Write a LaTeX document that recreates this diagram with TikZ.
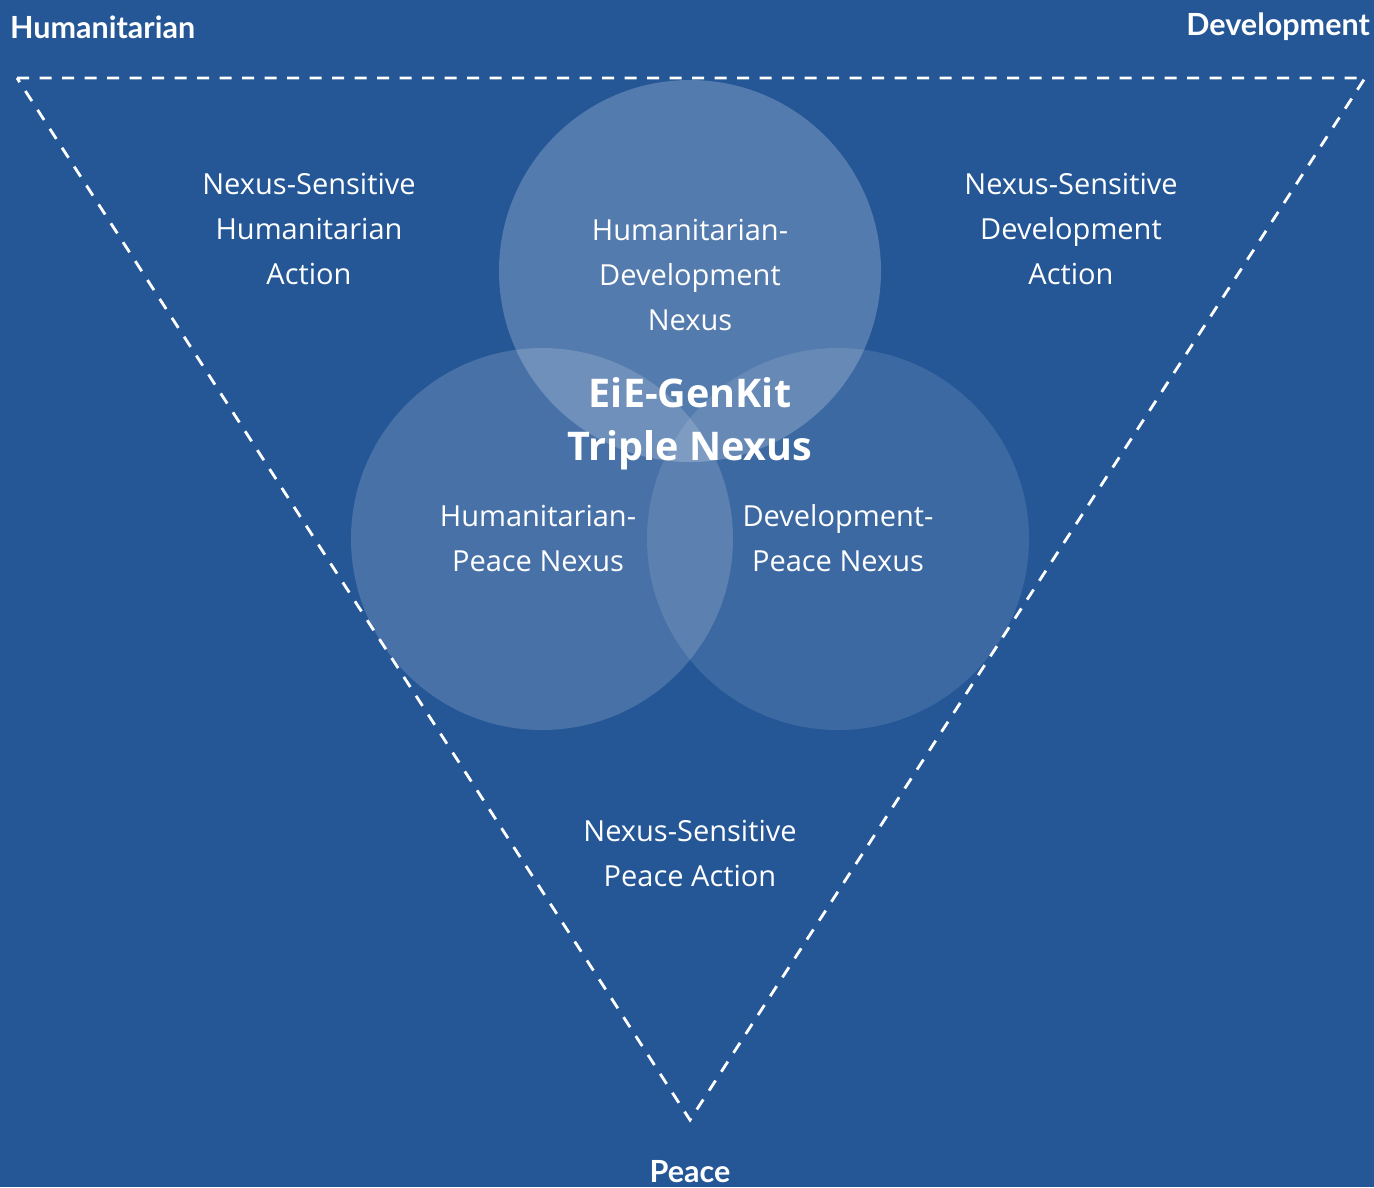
\documentclass[tikz,border=0pt]{standalone}
\usepackage{fontspec}
\setmainfont{Open Sans}
\newfontfamily\headfont{Lato}
\definecolor{bgblue}{RGB}{37,87,151}
\begin{document}
\begin{tikzpicture}[x=1pt,y=-1pt,
  bodytext/.style={text=white,align=center,font=\fontsize{29}{45}\selectfont,inner sep=0pt},
  headtext/.style={text=white,font=\headfont\bfseries\fontsize{30.5}{32}\selectfont,inner sep=0pt},
  titletext/.style={text=white,align=center,font=\bfseries\fontsize{39.5}{53}\selectfont,inner sep=0pt},
  bubble/.style={circle,fill=white,minimum size=382pt,inner sep=0pt,draw=none}]
\fill[bgblue] (0,0) rectangle (1374,1187);
\useasboundingbox (0,0) rectangle (1374,1187);
% circles
\node[bubble,fill opacity=0.22] (top) at (690,271) {};
\node[bubble,fill opacity=0.16] (left) at (542,539) {};
\node[bubble,fill opacity=0.11] (right) at (838,539) {};
% triangle
\coordinate (tl) at (17,78);
\coordinate (tr) at (1365,78);
\coordinate (bt) at (690,1120);
\draw[white,line width=2.8pt,dash pattern=on 12pt off 10.5pt] (tl) -- (tr) -- (bt) -- cycle;
% headings
\node[headtext,anchor=west] (hum) at (10,27) {Humanitarian};
\node[headtext,anchor=east] (dev) at (1370,27) {Development};
\node[headtext] (peace) at (690,1172) {Peace};
% texts
\node[bodytext] (nsh) at (309,229) {Nexus-Sensitive\\Humanitarian\\Action};
\node[bodytext] (nsd) at (1071,229) {Nexus-Sensitive\\Development\\Action};
\node[bodytext] (hdn) at (690,275) {Humanitarian-\\Development\\Nexus};
\node[bodytext] (hpn) at (538,538) {Humanitarian-\\Peace Nexus};
\node[bodytext] (dpn) at (838,538) {Development-\\Peace Nexus};
\node[bodytext] (nsp) at (690,853) {Nexus-Sensitive\\Peace Action};
\node[titletext] (title) at (690,424) {EiE-GenKit\\Triple Nexus};
\end{tikzpicture}
\end{document}
